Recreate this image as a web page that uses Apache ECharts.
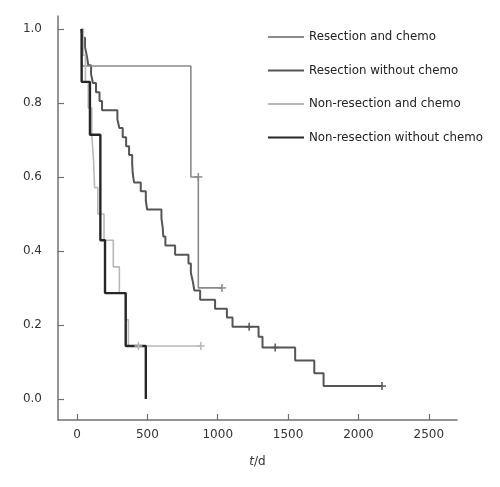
<!DOCTYPE html>
<html>
<head>
<meta charset="utf-8">
<script src="https://cdn.jsdelivr.net/npm/echarts@6/dist/echarts.min.js"></script>
<style>html,body{margin:0;padding:0;background:#fff}#c{width:500px;height:487px}</style>
</head>
<body>
<div id="c"></div>
<script>
// Series names (legend order)
const seriesNames = ['Resection and chemo', 'Resection without chemo', 'Non-resection and chemo', 'Non-resection without chemo'];

// Kaplan-Meier steps: [time (d), survival after event]
const resectChemo = [[33, 1.0], [33, 0.9], [809, 0.6], [862, 0.3], [1030, 0.3]];
const resectChemoCensor = [[862, 0.6], [1030, 0.3]];

const resectNoChemo = [
  [30, 1.0], [40, 0.976], [57, 0.951], [70, 0.927], [80, 0.902], [100, 0.878], [113, 0.854],
  [135, 0.829], [160, 0.805], [178, 0.780], [287, 0.756], [301, 0.732], [325, 0.707],
  [349, 0.683], [370, 0.659], [392, 0.634], [396, 0.610], [405, 0.585], [453, 0.561],
  [489, 0.537], [498, 0.512], [600, 0.488], [609, 0.463], [613, 0.439], [628, 0.415],
  [697, 0.390], [792, 0.366], [809, 0.341], [823, 0.317], [834, 0.293], [875, 0.268],
  [981, 0.244], [1065, 0.220], [1105, 0.195], [1290, 0.168], [1318, 0.139], [1550, 0.104],
  [1686, 0.0695], [1752, 0.0347], [2167, 0.0347]
];
const resectNoChemoCensor = [[1223, 0.195], [1408, 0.139], [2167, 0.0347]];

const nonResectChemo = [
  [30, 1.0], [45, 0.929], [60, 0.857], [80, 0.786], [105, 0.714], [118, 0.643], [125, 0.571],
  [148, 0.5], [192, 0.429], [258, 0.357], [301, 0.286], [345, 0.214], [365, 0.143], [880, 0.143]
];
const nonResectChemoCensor = [[436, 0.143], [880, 0.143]];

const nonResectNoChemo = [[33, 1.0], [33, 0.857], [92, 0.714], [166, 0.429], [199, 0.286], [346, 0.143], [489, 0.143], [489, 0.0]];

const xTicks = [0, 500, 1000, 1500, 2000, 2500];
const yTicks = [0, 0.2, 0.4, 0.6, 0.8, 1.0];

const colors = ['#8a8a8a', '#555555', '#b8b8b8', '#262626'];
const widths = [1.6, 2, 1.6, 2.4];

function lineSeries(i, data, z) {
  return {
    type: 'line', name: seriesNames[i], data: data, step: 'end', symbol: 'none', showSymbol: false,
    lineStyle: { color: colors[i], width: widths[i] }, itemStyle: { color: colors[i] },
    z: z, animation: false, silent: true
  };
}
function censorSeries(i, data, z) {
  return {
    type: 'custom', name: 'censor' + i, data: data, z: z, silent: true, animation: false,
    encode: { x: 0, y: 1 },
    renderItem: function (params, api) {
      const p = api.coord([api.value(0), api.value(1)]);
      const h = 4;
      const st = { stroke: colors[i], lineWidth: 1.5 };
      return {
        type: 'group', children: [
          { type: 'line', shape: { x1: p[0] - h, y1: p[1], x2: p[0] + h, y2: p[1] }, style: st },
          { type: 'line', shape: { x1: p[0], y1: p[1] - h, x2: p[0], y2: p[1] + h }, style: st }
        ]
      };
    }
  };
}

const chart = echarts.init(document.getElementById('c'), null, { renderer: 'canvas' });
const axisColor = '#707070';
const font = 'DejaVu Sans';
chart.setOption({
  animation: false,
  backgroundColor: '#fff',
  grid: { left: 58, right: 43, top: 16, bottom: 67 },
  legend: {
    data: seriesNames, orient: 'vertical', left: 267, top: 31, padding: 0,
    itemWidth: 36, itemHeight: 14, itemGap: 21.5, selectedMode: false,
    itemStyle: { opacity: 0 },
    textStyle: { fontFamily: font, fontSize: 11.8, color: '#222' }
  },
  xAxis: {
    type: 'value', min: -135, max: 2700,
    axisLine: { show: true, onZero: false, lineStyle: { color: axisColor, width: 1.5 } },
    axisTick: { show: true, inside: true, length: 6, customValues: xTicks, lineStyle: { color: axisColor, width: 1.2 } },
    axisLabel: { customValues: xTicks, margin: 9, fontFamily: font, fontSize: 12, color: '#333', formatter: v => String(v) },
    splitLine: { show: false },
    name: '{i|t}{n|/d}', nameLocation: 'middle', nameGap: 36,
    nameTextStyle: { rich: { i: { fontStyle: 'italic', fontFamily: font, fontSize: 12, color: '#333' }, n: { fontFamily: font, fontSize: 12, color: '#333' } } }
  },
  yAxis: {
    type: 'value', min: -0.057, max: 1.035,
    axisLine: { show: true, onZero: false, lineStyle: { color: axisColor, width: 1.5 } },
    axisTick: { show: true, inside: true, length: 6, customValues: yTicks, lineStyle: { color: axisColor, width: 1.2 } },
    axisLabel: { customValues: yTicks, margin: 16, fontFamily: font, fontSize: 12, color: '#333', formatter: v => v.toFixed(1) },
    splitLine: { show: false }
  },
  series: [
    lineSeries(1, resectNoChemo, 2),
    lineSeries(0, resectChemo, 3),
    lineSeries(2, nonResectChemo, 4),
    lineSeries(3, nonResectNoChemo, 5),
    censorSeries(1, resectNoChemoCensor, 6),
    censorSeries(0, resectChemoCensor, 6),
    censorSeries(2, nonResectChemoCensor, 6)
  ]
});
</script>
</body>
</html>
